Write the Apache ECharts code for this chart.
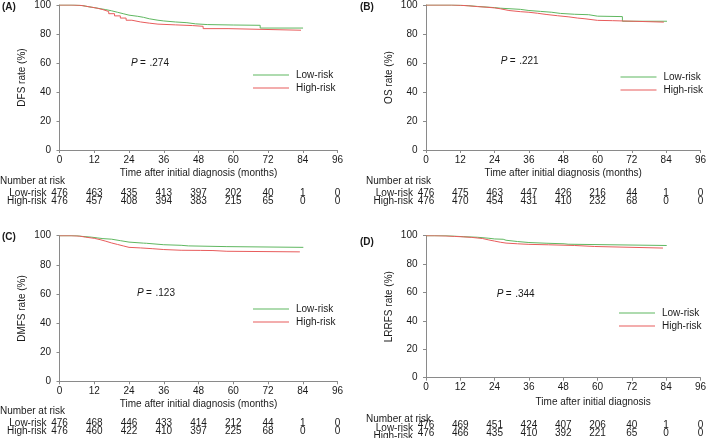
<!DOCTYPE html>
<html>
<head>
<meta charset="utf-8">
<script src="https://cdn.jsdelivr.net/npm/echarts@6/dist/echarts.min.js"></script>
<style>html,body{margin:0;padding:0;background:#fff}#c{width:709px;height:438px}</style>
</head>
<body>
<div id="c"></div>
<script>
// ---------- data ----------
const xTicks = [0, 12, 24, 36, 48, 60, 72, 84, 96];
const panelTitles = ['(A)', '(B)', '(C)', '(D)'];
const yNames = ['DFS rate (%)', 'OS rate (%)', 'DMFS rate (%)', 'LRRFS rate (%)'];
const xNames = ['Time after initial diagnosis (months)', 'Time after initial diagnosis (months)',
                'Time after initial diagnosis (months)', 'Time after initial diagnosis'];
const pValues = ['.274', '.221', '.123', '.344'];
const groupNames = ['Low-risk', 'High-risk'];

const dfsLow = [[0,100],[5,99.6],[8,98.8],[10,98.2],[12,97.5],[14,96.8],[16,96],[18,95],[20,94],[22,93],[24,92.2],[27,91.5],[29,90.5],[31,89.5],[34,89],[36,88.3],[40,87.8],[44,87],[47,86.5],[51,86.2],[60,86],[69.3,84.1],[84.1,84.1]];
const dfsHigh = [[0,100],[4,99.8],[7,99.2],[9,98.5],[11,97.8],[13,96.8],[15,95.5],[17,94],[19,92.5],[21,91],[23,89.5],[25,88.3],[28,87.5],[31,86.8],[34,86.3],[40,85.8],[46,85.3],[49.6,83.7],[58.2,82.6],[83.4,82.6]];
const osLow = [[0,100],[9,99.8],[12,99.5],[15,99],[18,98.6],[21,98.2],[24,97.8],[26,97],[33,96.2],[36,95.6],[40,95],[44,94.2],[47,93.6],[52,93.3],[56.9,92.3],[60,92],[68.7,88.8],[84.3,88.8]];
const osHigh = [[0,100],[9,99.8],[12,99.4],[15,98.9],[18,98.5],[21,98],[24,97.4],[26,96.2],[29,95.4],[33,95],[36,94.3],[39,93.5],[42,92.6],[46,91.8],[50,91],[53,90.5],[55.6,89.4],[60,89.2],[65.3,88.2],[83.2,88.2]];
const dmfsLow = [[0,100],[6,99.5],[8,99],[11,98.5],[13,98],[15,97.6],[18,96.6],[21,95.6],[24,94.9],[29,94.8],[30,93.8],[36,93.4],[42,93],[44.5,92.5],[57.8,92],[84.2,92]];
const dmfsHigh = [[0,100],[4,99.7],[7,99],[9,98.2],[12,97.3],[14,96.2],[16,95],[18,94],[20,93],[22,92],[24,91.6],[28,91.1],[32,90.5],[36,90],[42,89.9],[48.6,89.8],[53,89.3],[57.8,88.9],[83,88.9]];
const lrrfsLow = [[0,100],[7,99.7],[10,99.3],[13,98.9],[18,98.2],[22,97.7],[24,97.5],[27,96.8],[28,95.9],[32,95.2],[36,94.7],[42,94.3],[48.3,94],[49.7,93.1],[84.2,93.1]];
const lrrfsHigh = [[0,100],[3,99.8],[7,99.5],[10,99.2],[13,98.8],[16,98],[19.8,97],[22,96.2],[24,95.4],[26,94.8],[28,94.3],[32,93.9],[36,93.6],[42.8,93.1],[52,92.4],[59,91.3],[82.9,91.3]];

const riskLowA  = [476, 463, 435, 413, 397, 202, 40, 1, 0];
const riskHighA = [476, 457, 408, 394, 383, 215, 65, 0, 0];
const riskLowB  = [476, 475, 463, 447, 426, 216, 44, 1, 0];
const riskHighB = [476, 470, 454, 431, 410, 232, 68, 0, 0];
const riskLowC  = [476, 468, 446, 433, 414, 212, 44, 1, 0];
const riskHighC = [476, 460, 422, 410, 397, 225, 68, 0, 0];
const riskLowD  = [476, 469, 451, 424, 407, 206, 40, 1, 0];
const riskHighD = [476, 466, 435, 410, 392, 221, 65, 0, 0];

// ---------- layout / style ----------
const FONT = 'Liberation Sans, Arial, sans-serif';
const TXT = '#1a1a1a';
const AXIS = '#8a8a8a';
const GREEN = '#5fb760';
const RED = '#e85c5c';

const curves = [[dfsLow, dfsHigh], [osLow, osHigh], [dmfsLow, dmfsHigh], [lrrfsLow, lrrfsHigh]];
const risks = [[riskLowA, riskHighA], [riskLowB, riskHighB], [riskLowC, riskHighC], [riskLowD, riskHighD]];

const grids = [
  {left: 59.5, top: 3, width: 278, height: 147},
  {left: 426, top: 3, width: 278, height: 147},
  {left: 59.5, top: 235.7, width: 278, height: 145.6},
  {left: 426, top: 235.7, width: 278, height: 145.3}
];
const riskOffsets = [[38.3, 46.7], [38.3, 46.7], [37, 45.4], [42.5, 50.3]];
const nameGaps = [18.5, 18.5, 18.2, 19.8];
const namePadLeft = [0, 0, 0, 60];
const legendPos = [{left: 253, top: 70}, {left: 620.5, top: 72}, {left: 253, top: 304}, {left: 619, top: 308}];
const pPos = [[131, 63], [500.7, 61], [137, 293], [496.7, 294]];
const titlePos = [[2, 7], [360, 7], [2, 237], [360, 242]];
const narPos = [[0, 181], [366, 181], [0, 411.5], [366, 419]];

const xAxes = [], yAxes = [], series = [], legends = [], graphics = [];
const axisLineStyle = {lineStyle: {color: AXIS, width: 1}};

for (let i = 0; i < 4; i++) {
  xAxes.push({
    gridIndex: i, type: 'value', min: 0, max: 96, interval: 12,
    name: xNames[i], nameLocation: 'middle', nameGap: nameGaps[i],
    nameTextStyle: {fontFamily: FONT, fontSize: 10, color: TXT, lineHeight: 10, verticalAlign: 'top', padding: [0, 0, 0, namePadLeft[i]]},
    axisLine: axisLineStyle, axisTick: {show: true, length: 3, lineStyle: {color: AXIS}},
    axisLabel: {fontFamily: FONT, fontSize: 10, color: TXT, margin: 5, lineHeight: 10},
    splitLine: {show: false}
  });
  yAxes.push({
    gridIndex: i, type: 'value', min: 0, max: 100, interval: 20,
    name: yNames[i], nameLocation: 'middle', nameGap: 32,
    nameTextStyle: {fontFamily: FONT, fontSize: 10, color: TXT},
    axisLine: {show: true, lineStyle: {color: AXIS, width: 1}},
    axisTick: {show: true, length: 3, lineStyle: {color: AXIS}},
    axisLabel: {fontFamily: FONT, fontSize: 10, color: TXT, margin: 8.5},
    splitLine: {show: false}
  });
  curves[i].forEach((d, g) => {
    series.push({
      name: groupNames[g], type: 'line', step: 'end', symbol: 'none', showSymbol: false,
      xAxisIndex: i, yAxisIndex: i, data: d, animation: false,
      lineStyle: {width: 1, color: g === 0 ? GREEN : RED},
      itemStyle: {color: g === 0 ? GREEN : RED}
    });
  });
  legends.push({
    data: groupNames.map(n => ({name: n, icon: 'rect'})), orient: 'vertical',
    left: legendPos[i].left, top: legendPos[i].top,
    itemWidth: 36, itemHeight: 1, itemGap: 3, selectedMode: false, padding: 0,
    textStyle: {fontFamily: FONT, fontSize: 10, color: TXT, padding: [0, 0, 0, 2]}
  });
  graphics.push({type: 'text', x: pPos[i][0], y: pPos[i][1],
    style: {text: 'P', font: 'italic 10px ' + FONT, fill: TXT, verticalAlign: 'middle'}});
  graphics.push({type: 'text', x: pPos[i][0] + 9, y: pPos[i][1],
    style: {text: '=', font: '10px ' + FONT, fill: TXT, verticalAlign: 'middle'}});
  graphics.push({type: 'text', x: pPos[i][0] + 18.5, y: pPos[i][1],
    style: {text: pValues[i], font: '10px ' + FONT, fill: TXT, verticalAlign: 'middle'}});
  graphics.push({type: 'text', x: titlePos[i][0], y: titlePos[i][1],
    style: {text: panelTitles[i], font: 'bold 10px ' + FONT, fill: TXT, verticalAlign: 'middle'}});
  graphics.push({type: 'text', x: narPos[i][0], y: narPos[i][1],
    style: {text: 'Number at risk', font: '10px ' + FONT, fill: TXT, verticalAlign: 'middle'}});
  const gb = grids[i];
  groupNames.forEach((gname, g) => {
    graphics.push({type: 'text', x: gb.left - 13, y: gb.top + gb.height + riskOffsets[i][g] + 5,
      style: {text: gname, font: '10px ' + FONT, fill: TXT, align: 'right', verticalAlign: 'middle'}});
  });
}
// number-at-risk rows as extra axes aligned to the time ticks
for (let i = 0; i < 4; i++) {
  for (let g = 0; g < 2; g++) {
    const arr = risks[i][g];
    xAxes.push({
      gridIndex: i, type: 'value', min: 0, max: 96, interval: 12, position: 'bottom',
      offset: riskOffsets[i][g],
      axisLine: {show: false}, axisTick: {show: false}, splitLine: {show: false},
      axisLabel: {fontFamily: FONT, fontSize: 10, color: TXT, margin: 0, lineHeight: 10,
        showMinLabel: true, showMaxLabel: true,
        formatter: v => { const k = xTicks.indexOf(v); return k >= 0 ? String(arr[k]) : ''; }}
    });
  }
}

const chart = echarts.init(document.getElementById('c'), null, {renderer: 'canvas'});
chart.setOption({
  animation: false,
  backgroundColor: '#fff',
  grid: grids,
  xAxis: xAxes,
  yAxis: yAxes,
  legend: legends,
  series: series,
  graphic: graphics
});
</script>
</body>
</html>
